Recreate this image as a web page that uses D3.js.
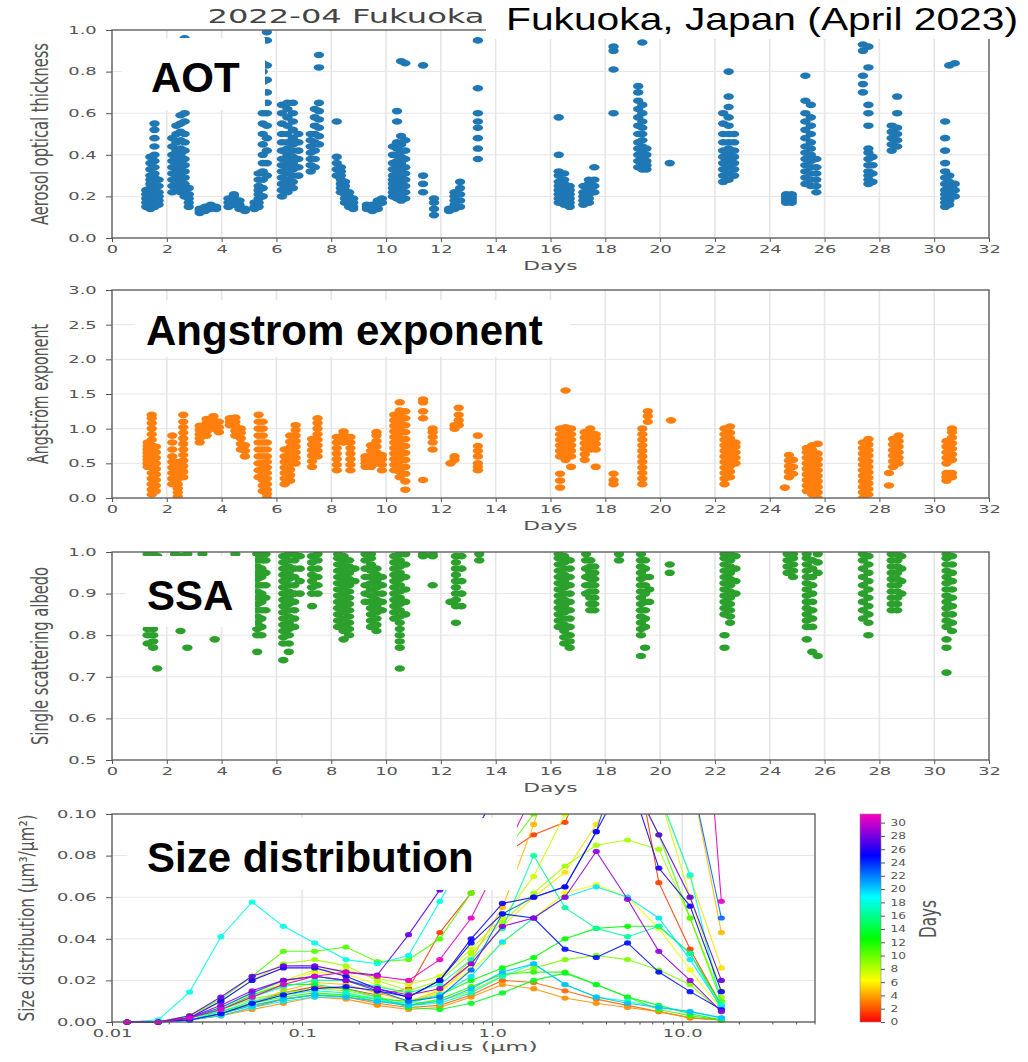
<!DOCTYPE html>
<html>
<head>
<meta charset="utf-8">
<script src="https://cdn.jsdelivr.net/npm/d3@7"></script>
<style>
  body { margin: 0; background: #fff; }
  svg { display: block; }
</style>
</head>
<body>
<svg id="chart" width="1028" height="1062"></svg>
<script>
// ---------------------------------------------------------------
// Sky radiometer retrievals, Fukuoka, April 2022.
// Each observation column is [day of month, [values observed]].
// ---------------------------------------------------------------
const dayTicks = [0, 2, 4, 6, 8, 10, 12, 14, 16, 18, 20, 22, 24, 26, 28, 30, 32];
const aotTicks = [0.0, 0.2, 0.4, 0.6, 0.8, 1.0];
const aeTicks = [0.0, 0.5, 1.0, 1.5, 2.0, 2.5, 3.0];
const ssaTicks = [0.5, 0.6, 0.7, 0.8, 0.9, 1.0];
const sizeTicks = [0.00, 0.02, 0.04, 0.06, 0.08, 0.10];
const radiusMajorTicks = [0.01, 0.1, 1, 10];
const radiusMajorLabels = ["0.01", "0.1", "1.0", "10.0"];
const colorbarTicks = [0, 2, 4, 6, 8, 10, 12, 14, 16, 18, 20, 22, 24, 26, 28, 30];

// Aerosol optical thickness
const aotObs = [
  [1.25, [0.15,0.17,0.19,0.21,0.23]],
  [1.4, [0.14,0.16,0.18,0.2,0.22,0.24,0.26,0.28,0.3,0.33,0.36,0.39]],
  [1.55, [0.15,0.17,0.19,0.21,0.23,0.25,0.27,0.29,0.31,0.34,0.37,0.4,0.44,0.48,0.52,0.55]],
  [1.7, [0.16,0.18,0.2,0.22,0.25,0.28]],
  [2.2, [0.22,0.25,0.28,0.31,0.34,0.37,0.4,0.44,0.48]],
  [2.35, [0.24,0.27,0.3,0.33,0.36,0.39,0.42,0.46,0.5,0.54]],
  [2.5, [0.22,0.25,0.28,0.31,0.34,0.37,0.4,0.43,0.47,0.51,0.55,0.59]],
  [2.65, [0.2,0.23,0.26,0.29,0.32,0.35,0.38,0.42,0.46,0.5,0.56,0.6,0.96]],
  [2.8, [0.15,0.17,0.19,0.21,0.24]],
  [3.2, [0.12,0.13,0.14]],
  [3.4, [0.13,0.14,0.15]],
  [3.6, [0.14,0.15,0.16]],
  [3.8, [0.14,0.15]],
  [4.25, [0.15,0.17,0.19]],
  [4.45, [0.16,0.18,0.2,0.21]],
  [4.65, [0.14,0.16,0.18]],
  [4.85, [0.13,0.14]],
  [5.2, [0.14,0.15,0.17]],
  [5.35, [0.15,0.17,0.19,0.21,0.23,0.25,0.28,0.31]],
  [5.5, [0.2,0.24,0.28,0.32,0.36,0.4,0.45,0.5,0.55,0.6,0.65,0.7,0.75,0.8,0.84]],
  [5.65, [0.3,0.36,0.42,0.48,0.54,0.6,0.65,0.7,0.76,0.83,0.95,0.99]],
  [6.2, [0.2,0.23,0.26,0.29,0.32,0.35,0.38,0.42,0.46,0.5,0.55,0.6,0.64]],
  [6.4, [0.22,0.25,0.28,0.31,0.34,0.37,0.4,0.43,0.46,0.5,0.54,0.58,0.62,0.65]],
  [6.6, [0.24,0.27,0.3,0.33,0.36,0.39,0.42,0.45,0.48,0.52,0.56,0.6,0.65]],
  [6.8, [0.3,0.34,0.38,0.42,0.46,0.5]],
  [7.25, [0.32,0.35,0.38,0.41,0.44,0.47,0.5]],
  [7.4, [0.34,0.38,0.42,0.46,0.5,0.54,0.58,0.62]],
  [7.55, [0.45,0.49,0.53,0.57,0.61,0.65,0.82,0.88]],
  [8.2, [0.3,0.33,0.36,0.39,0.56]],
  [8.35, [0.22,0.24,0.26,0.28,0.3,0.32,0.34]],
  [8.5, [0.17,0.19,0.21,0.23,0.25,0.27]],
  [8.65, [0.15,0.16,0.18,0.2,0.22]],
  [8.8, [0.14,0.15,0.17,0.19]],
  [9.3, [0.14,0.15,0.16]],
  [9.5, [0.13,0.14,0.15,0.16]],
  [9.7, [0.14,0.16,0.17,0.18]],
  [9.85, [0.17,0.19]],
  [10.25, [0.2,0.22,0.24,0.26,0.28,0.3,0.33,0.36,0.4,0.44]],
  [10.4, [0.19,0.21,0.23,0.25,0.27,0.29,0.31,0.34,0.37,0.4,0.43,0.46,0.56,0.61]],
  [10.55, [0.18,0.2,0.22,0.24,0.26,0.28,0.3,0.33,0.36,0.39,0.42,0.45,0.49,0.85]],
  [10.7, [0.19,0.22,0.25,0.28,0.31,0.34,0.38,0.42,0.47,0.84]],
  [11.35, [0.22,0.26,0.3,0.83]],
  [11.75, [0.11,0.14,0.17,0.19]],
  [12.3, [0.13,0.14]],
  [12.5, [0.14,0.16,0.18,0.2,0.22]],
  [12.7, [0.15,0.18,0.21,0.24,0.27]],
  [13.35, [0.38,0.43,0.48,0.53,0.56,0.6,0.72,0.95]],
  [16.3, [0.17,0.19,0.21,0.23,0.25,0.27,0.3,0.32,0.4,0.58]],
  [16.5, [0.16,0.18,0.2,0.22,0.24,0.26,0.28,0.31]],
  [16.7, [0.15,0.17,0.19,0.21,0.23,0.25]],
  [17.2, [0.16,0.18,0.2,0.22,0.25]],
  [17.4, [0.17,0.19,0.21,0.23,0.26,0.28]],
  [17.6, [0.22,0.25,0.28,0.34]],
  [18.3, [0.6,0.81,0.9,0.92]],
  [19.2, [0.34,0.37,0.4,0.43,0.46,0.5,0.54,0.58,0.62,0.66,0.7,0.73]],
  [19.35, [0.33,0.35,0.38,0.41,0.44,0.47,0.5,0.53,0.56,0.6,0.64,0.94]],
  [19.5, [0.33,0.35,0.37,0.4,0.43]],
  [20.35, [0.36]],
  [22.3, [0.27,0.3,0.33,0.36,0.39,0.42,0.46,0.5,0.55,0.6]],
  [22.5, [0.28,0.31,0.34,0.37,0.4,0.43,0.46,0.5,0.54,0.58,0.63,0.68,0.8]],
  [22.7, [0.3,0.33,0.36,0.39,0.42,0.46,0.5]],
  [24.6, [0.17,0.18,0.19,0.2,0.21]],
  [24.8, [0.17,0.18,0.19,0.2,0.21]],
  [25.3, [0.26,0.29,0.32,0.35,0.38,0.41,0.44,0.48,0.52,0.56,0.6,0.66,0.78]],
  [25.5, [0.25,0.28,0.31,0.34,0.37,0.4,0.43,0.46,0.5,0.54,0.58,0.64]],
  [25.7, [0.22,0.25,0.28,0.31,0.34,0.38]],
  [27.4, [0.7,0.74,0.78,0.9,0.93]],
  [27.6, [0.26,0.28,0.3,0.32,0.35,0.38,0.41,0.43,0.54,0.6,0.64,0.82,0.92]],
  [27.75, [0.27,0.31,0.35,0.39]],
  [28.45, [0.42,0.45,0.48,0.51,0.54]],
  [28.65, [0.44,0.47,0.5,0.53,0.6,0.68]],
  [30.4, [0.15,0.17,0.19,0.21,0.23,0.26,0.29,0.32,0.36,0.42,0.48,0.56]],
  [30.55, [0.16,0.18,0.2,0.22,0.24,0.27,0.3,0.83]],
  [30.75, [0.2,0.23,0.26,0.84]]
];

// Angstrom exponent
const aeObs = [
  [1.3, [0.45,0.5,0.55,0.6,0.65,0.7,0.75,0.8]],
  [1.45, [0.05,0.12,0.2,0.28,0.36,0.44,0.52,0.6,0.68,0.76,0.84,0.92,1.0,1.08,1.15,1.2]],
  [1.6, [0.1,0.18,0.26,0.34,0.42,0.5,0.58,0.66,0.74]],
  [2.2, [0.2,0.28,0.36,0.44,0.52,0.6,0.7,0.8,0.9]],
  [2.4, [0.02,0.08,0.14,0.2,0.28,0.36,0.44,0.52]],
  [2.6, [0.3,0.38,0.46,0.54,0.62,0.7,0.78,0.86,0.94,1.02,1.1,1.2]],
  [3.2, [0.8,0.86,0.92,0.98,1.04]],
  [3.45, [0.9,0.96,1.02,1.08,1.14]],
  [3.7, [1.0,1.06,1.12,1.18]],
  [3.9, [0.95,1.02,1.1]],
  [4.3, [1.05,1.1,1.15]],
  [4.5, [0.9,0.97,1.04,1.1,1.16]],
  [4.7, [0.7,0.78,0.86,0.94,1.0]],
  [4.85, [0.6,0.68,0.76]],
  [5.35, [0.3,0.4,0.5,0.6,0.7,0.8,0.9,1.0,1.1,1.2]],
  [5.5, [0.1,0.18,0.26,0.34,0.42,0.5,0.6,0.7,0.8,0.9,1.0,1.1]],
  [5.65, [0.0,0.06,0.12,0.2,0.28,0.36,0.44,0.52,0.6,0.7,0.8]],
  [6.3, [0.2,0.28,0.36,0.44,0.52,0.6,0.7]],
  [6.5, [0.25,0.33,0.41,0.49,0.57,0.65,0.73,0.81,0.9]],
  [6.7, [0.5,0.58,0.66,0.74,0.82,0.9,0.98,1.05]],
  [7.3, [0.45,0.53,0.61,0.69,0.77,0.85]],
  [7.5, [0.6,0.68,0.76,0.84,0.92,1.0,1.08,1.15]],
  [8.2, [0.4,0.48,0.56,0.64,0.72,0.8,0.88]],
  [8.45, [0.8,0.86,0.92,0.96]],
  [8.7, [0.4,0.48,0.56,0.64,0.72,0.8,0.88]],
  [9.25, [0.45,0.5,0.55,0.6]],
  [9.45, [0.45,0.52,0.6,0.68,0.76]],
  [9.65, [0.5,0.58,0.66,0.74,0.82,0.9,0.95]],
  [9.85, [0.4,0.48,0.56,0.62]],
  [10.3, [0.4,0.48,0.56,0.64,0.72,0.8,0.88,0.96,1.04,1.12,1.2]],
  [10.5, [0.3,0.38,0.46,0.54,0.62,0.7,0.78,0.86,0.94,1.02,1.1,1.18,1.26,1.38]],
  [10.7, [0.12,0.24,0.35,0.45,0.55,0.65,0.75,0.85,0.95,1.05,1.15,1.25]],
  [11.35, [0.26,1.15,1.25,1.38,1.42]],
  [11.7, [0.7,0.8,0.88,0.95,1.0]],
  [12.35, [0.5]],
  [12.5, [0.55,0.6,1.0,1.05]],
  [12.65, [1.05,1.12,1.2,1.3]],
  [13.35, [0.4,0.45,0.5,0.6,0.68,0.75,0.9]],
  [16.35, [0.15,0.25,0.35,0.6,0.68,0.76,0.84,0.92,1.0]],
  [16.55, [0.55,0.62,0.7,0.78,0.86,0.94,1.02,1.55]],
  [16.75, [0.45,0.6,0.68,0.76,0.84,0.92,1.0]],
  [17.25, [0.55,0.63,0.71,0.79,0.87,0.95]],
  [17.45, [0.7,0.78,0.86,0.94,1.0]],
  [17.65, [0.45,0.7,0.78,0.86,0.92]],
  [18.3, [0.2,0.26,0.35]],
  [19.35, [0.2,0.28,0.36,0.44,0.52,0.6,0.68,0.76,0.84,0.92,1.0]],
  [19.55, [1.1,1.18,1.25]],
  [20.4, [1.12]],
  [22.35, [0.2,0.28,0.36,0.44,0.52,0.6,0.68,0.76,0.84,0.92,1.0]],
  [22.55, [0.3,0.38,0.46,0.54,0.62,0.7,0.78,0.86,0.94,1.03]],
  [22.75, [0.5,0.58,0.66,0.74,0.8]],
  [24.55, [0.15]],
  [24.7, [0.3,0.38,0.46,0.54,0.62]],
  [24.85, [0.35,0.45,0.55]],
  [25.35, [0.1,0.18,0.26,0.34,0.42,0.5,0.58,0.66,0.72]],
  [25.55, [0.05,0.13,0.21,0.29,0.37,0.45,0.53,0.61,0.69,0.76]],
  [25.75, [0.0,0.08,0.16,0.24,0.32,0.4,0.48,0.56,0.64,0.78]],
  [27.4, [0.0,0.08,0.16,0.24,0.32,0.4,0.48,0.56,0.64,0.72,0.8]],
  [27.6, [0.05,0.13,0.21,0.29,0.37,0.45,0.53,0.61,0.69,0.77,0.85]],
  [28.35, [0.18,0.36]],
  [28.5, [0.45,0.53,0.61,0.69,0.77,0.85]],
  [28.7, [0.5,0.58,0.66,0.74,0.82,0.9]],
  [30.45, [0.25,0.3,0.36,0.5,0.58,0.66,0.74,0.82]],
  [30.65, [0.3,0.36,0.55,0.63,0.71,0.79,0.87,0.95,1.0]]
];

// Single scattering albedo
const ssaObs = [
  [1.3, [0.78,0.8,0.815,0.83,0.845,0.86,0.875,0.89,0.905,0.92,0.935,0.95,0.965,0.98,0.995]],
  [1.5, [0.77,0.785,0.8,0.815,0.83,0.845,0.86,0.875,0.89,0.905,0.92,0.935,0.95,0.965,0.98,0.995]],
  [1.65, [0.72,0.85,0.9,0.95,0.99]],
  [2.3, [0.88,0.91,0.94,0.97,0.995]],
  [2.5, [0.81,0.83,0.85,0.87,0.89,0.91,0.93,0.95,0.97,0.99]],
  [2.75, [0.77,0.9,0.95,0.995]],
  [3.3, [0.95,0.975,0.995]],
  [3.75, [0.79,0.95]],
  [4.5, [0.97,0.995]],
  [5.3, [0.76,0.8,0.815,0.83,0.845,0.86,0.875,0.89,0.905,0.92,0.935,0.95,0.965,0.98,0.995]],
  [5.45, [0.8,0.82,0.84,0.86,0.88,0.9,0.92,0.94,0.96,0.98,0.995]],
  [5.6, [0.86,0.89,0.92,0.95,0.98,0.995]],
  [6.25, [0.74,0.78,0.795,0.81,0.825,0.84,0.855,0.87,0.885,0.9,0.915,0.93,0.945,0.96,0.975,0.99]],
  [6.45, [0.76,0.78,0.8,0.815,0.83,0.845,0.86,0.875,0.89,0.905,0.92,0.935,0.95,0.965,0.98,0.995]],
  [6.65, [0.82,0.84,0.86,0.88,0.9,0.92,0.94,0.96,0.98,0.995]],
  [6.85, [0.9,0.93,0.96,0.99]],
  [7.3, [0.87,0.9,0.915,0.93,0.945,0.96,0.975,0.99]],
  [7.5, [0.9,0.92,0.94,0.96,0.98,0.995]],
  [8.25, [0.82,0.835,0.85,0.865,0.88,0.895,0.91,0.925,0.94,0.955,0.97,0.985,0.995]],
  [8.45, [0.79,0.81,0.825,0.84,0.855,0.87,0.885,0.9,0.915,0.93,0.945,0.96,0.975,0.99]],
  [8.65, [0.8,0.815,0.83,0.845,0.86,0.875,0.89,0.905,0.92,0.935,0.95,0.965,0.98]],
  [8.85, [0.93,0.96]],
  [9.25, [0.88,0.9,0.92,0.94,0.96,0.98,0.995]],
  [9.45, [0.82,0.835,0.85,0.865,0.88,0.895,0.91,0.925,0.94,0.955,0.97,0.985,0.995]],
  [9.65, [0.81,0.825,0.84,0.855,0.87,0.885,0.9,0.915,0.93,0.945,0.96]],
  [9.85, [0.86,0.88,0.9,0.92,0.94]],
  [10.3, [0.84,0.855,0.87,0.885,0.9,0.915,0.93,0.945,0.96,0.975,0.99]],
  [10.5, [0.72,0.77,0.785,0.8,0.815,0.83,0.845,0.86,0.875,0.89,0.905,0.92,0.935,0.95,0.965,0.98,0.995]],
  [10.7, [0.85,0.88,0.91,0.94,0.97,0.995]],
  [11.35, [0.99,0.995]],
  [11.7, [0.92,0.99,0.995]],
  [12.35, [0.88]],
  [12.55, [0.83,0.87,0.885,0.9,0.915,0.93,0.945,0.96,0.975,0.99]],
  [12.75, [0.87,0.9,0.93,0.96,0.99]],
  [13.4, [0.98,0.995]],
  [16.3, [0.82,0.835,0.85,0.865,0.88,0.895,0.91,0.925,0.94,0.955,0.97,0.985,0.995]],
  [16.5, [0.78,0.795,0.81,0.825,0.84,0.855,0.87,0.885,0.9,0.915,0.93,0.945,0.96,0.975,0.99]],
  [16.7, [0.77,0.785,0.8,0.82,0.84,0.86,0.88,0.9,0.92,0.94,0.96,0.98]],
  [17.3, [0.9,0.92,0.94,0.96,0.98,0.995]],
  [17.45, [0.86,0.875,0.89,0.905,0.92,0.935,0.95,0.965,0.98]],
  [17.6, [0.86,0.875,0.89,0.905,0.92,0.935,0.95,0.965]],
  [18.5, [0.98,0.995]],
  [19.3, [0.75,0.8,0.815,0.83,0.845,0.86,0.875,0.89,0.905,0.92,0.935,0.95,0.965,0.98,0.995]],
  [19.45, [0.77,0.82,0.84,0.86,0.88,0.9,0.92,0.94,0.96,0.98]],
  [19.6, [0.88,0.91,0.94]],
  [20.35, [0.95,0.97]],
  [22.35, [0.77,0.8,0.85,0.865,0.88,0.895,0.91,0.925,0.94,0.955,0.97,0.985,0.995]],
  [22.55, [0.83,0.845,0.86,0.875,0.89,0.905,0.92,0.935,0.95,0.965,0.98,0.995]],
  [22.75, [0.9,0.93,0.96,0.99]],
  [24.65, [0.95,0.965,0.98,0.995]],
  [24.85, [0.94,0.955,0.97,0.985,0.995]],
  [25.35, [0.79,0.82,0.835,0.85,0.865,0.88,0.895,0.91,0.925,0.94,0.955,0.97,0.985,0.995]],
  [25.55, [0.76,0.82,0.84,0.86,0.88,0.9,0.92,0.94,0.96,0.98]],
  [25.75, [0.75,0.95,0.975,0.995]],
  [27.4, [0.84,0.86,0.88,0.9,0.92,0.94,0.96,0.98,0.995]],
  [27.6, [0.8,0.83,0.85,0.87,0.89,0.91,0.93,0.95,0.97,0.99]],
  [28.45, [0.86,0.875,0.89,0.905,0.92,0.935,0.95,0.965,0.98,0.995]],
  [28.65, [0.86,0.875,0.89,0.905,0.92,0.935,0.95,0.965,0.98,0.995]],
  [28.8, [0.9,0.93,0.96,0.99]],
  [30.45, [0.71,0.77,0.79,0.82,0.835,0.85,0.865,0.88,0.895,0.91,0.925,0.94,0.955,0.97,0.985,0.995]],
  [30.65, [0.81,0.83,0.85,0.87,0.89,0.91,0.93,0.95,0.97,0.99]]
];

// Volume size distribution: radius bins (um) and one curve per day
const radiusBins = [0.0120, 0.0175, 0.0256, 0.0374, 0.0546, 0.0798, 0.1166, 0.1703, 0.2488, 0.3634,
                    0.5309, 0.7756, 1.133, 1.655, 2.418, 3.532, 5.160, 7.538, 11.01, 16.08];
const sizeDays = [1.5, 2.5, 3.5, 4.5, 5.5, 6.5, 7.5, 8.5, 9.5, 10.5, 11.5, 12.5, 13.3,
                  16.5, 17.5, 18.3, 19.4, 20.3, 22.5, 24.7, 25.5, 27.5, 28.6, 30.6];
const sizeValues = [
  [0,0,0.001,0.004,0.009,0.014,0.017,0.016,0.013,0.016,0.043,0.062,0.08,0.09,0.096,0.13,0.15,0.067,0.035,0.008],
  [0,0,0.001,0.003,0.007,0.011,0.013,0.012,0.009,0.007,0.008,0.013,0.02,0.019,0.015,0.011,0.008,0.005,0.002,0.001],
  [0,0,0.001,0.003,0.006,0.009,0.012,0.011,0.008,0.006,0.007,0.012,0.018,0.016,0.0115,0.009,0.007,0.005,0.002,0.001],
  [0,0,0.001,0.004,0.009,0.015,0.019,0.018,0.014,0.01,0.015,0.03,0.055,0.095,0.14,0.17,0.18,0.16,0.12,0.043],
  [0,0,0.002,0.006,0.012,0.018,0.022,0.02,0.015,0.01,0.014,0.028,0.046,0.06,0.072,0.095,0.12,0.11,0.07,0.026],
  [0,0,0.002,0.006,0.013,0.019,0.024,0.023,0.018,0.013,0.015,0.025,0.038,0.05,0.062,0.066,0.06,0.045,0.025,0.006],
  [0,0,0.002,0.007,0.014,0.02,0.025,0.025,0.021,0.018,0.022,0.035,0.05,0.07,0.1,0.13,0.14,0.11,0.06,0.015],
  [0,0,0.003,0.01,0.02,0.028,0.03,0.027,0.02,0.015,0.02,0.033,0.048,0.062,0.075,0.085,0.0875,0.083,0.05,0.012],
  [0,0,0.002,0.006,0.011,0.014,0.016,0.015,0.012,0.009,0.01,0.015,0.022,0.026,0.03,0.032,0.03,0.025,0.018,0.005],
  [0,0,0.003,0.011,0.022,0.034,0.034,0.036,0.029,0.03,0.04,0.062,0.08,0.1,0.12,0.13,0.12,0.09,0.05,0.01],
  [0,0,0.002,0.005,0.009,0.012,0.014,0.013,0.01,0.008,0.011,0.017,0.023,0.024,0.024,0.018,0.012,0.006,0.003,0.001],
  [0,0,0.001,0.004,0.008,0.011,0.013,0.013,0.011,0.01,0.013,0.02,0.026,0.031,0.04,0.045,0.046,0.046,0.033,0.008],
  [0,0,0.002,0.006,0.013,0.018,0.018,0.016,0.012,0.007,0.006,0.009,0.014,0.02,0.0235,0.018,0.012,0.008,0.004,0.001],
  [0,0,0.002,0.006,0.012,0.017,0.02,0.02,0.017,0.014,0.018,0.03,0.045,0.08,0.055,0.045,0.041,0.046,0.033,0.006],
  [0,0,0.001,0.005,0.01,0.013,0.015,0.014,0.011,0.008,0.009,0.014,0.022,0.028,0.018,0.012,0.01,0.007,0.005,0.002],
  [0,0.001,0.0144,0.041,0.0577,0.046,0.038,0.03,0.028,0.032,0.058,0.085,0.12,0.16,0.19,0.18,0.15,0.11,0.0707,0.008],
  [0,0,0.001,0.003,0.007,0.01,0.012,0.012,0.01,0.009,0.013,0.022,0.0385,0.05,0.06,0.065,0.06,0.05,0.03,0.007],
  [0,0,0.001,0.004,0.008,0.011,0.013,0.012,0.01,0.008,0.01,0.016,0.024,0.028,0.018,0.012,0.009,0.007,0.005,0.002],
  [0,0,0.002,0.007,0.014,0.02,0.022,0.02,0.015,0.01,0.012,0.025,0.052,0.06,0.065,0.0915,0.14,0.16,0.12,0.05],
  [0,0,0.001,0.004,0.009,0.013,0.016,0.017,0.015,0.012,0.02,0.038,0.052,0.05,0.035,0.031,0.038,0.024,0.0146,0.006],
  [0,0,0.002,0.01,0.02,0.026,0.026,0.022,0.016,0.012,0.02,0.04,0.057,0.06,0.065,0.0915,0.12,0.074,0.0557,0.0146],
  [0,0,0.003,0.012,0.022,0.027,0.027,0.024,0.0226,0.042,0.0635,0.088,0.115,0.15,0.17,0.15,0.12,0.09,0.06,0.02],
  [0,0,0.002,0.008,0.015,0.02,0.022,0.02,0.016,0.013,0.016,0.028,0.046,0.05,0.06,0.082,0.059,0.034,0.02,0.005],
  [0,0,0.002,0.006,0.012,0.018,0.022,0.024,0.022,0.02,0.03,0.05,0.08,0.11,0.15,0.2,0.26,0.3,0.25,0.058]
];

// ---------------------------------------------------------------
const SX = 1.7;            // horizontal stretch of the figure's text and markers
const FONT = "DejaVu Sans, sans-serif";
const INK = "#555";
const GRID = "#e6e6e6";
const X0 = 112, X1 = 989;

const svg = d3.select("#chart");
const defs = svg.append("defs");
const xDay = d3.scaleLinear().domain([0, 32]).range([X0, X1]);

function styleAxis(a, size, sx) {
  a.select(".domain").remove();
  a.selectAll(".tick line").attr("stroke", INK).attr("stroke-width", 1);
  a.selectAll(".tick text")
    .attr("fill", INK).attr("font-family", FONT).attr("font-size", size)
    .attr("transform", `scale(${sx},1)`);
}

function stretchedText(g, x, y, str, o) {
  const t = g.append("text")
    .attr("transform", `translate(${x},${y}) scale(${o.sx || SX},1)` + (o.rotate ? ` rotate(${o.rotate})` : ""))
    .attr("text-anchor", o.anchor || "middle")
    .attr("font-family", FONT)
    .attr("font-size", o.size)
    .attr("fill", o.fill || INK)
    .text(str);
  if (o.len) t.attr("textLength", o.len).attr("lengthAdjust", "spacingAndGlyphs");
  return t;
}

function timePanel(cfg) {
  const { id, top, bottom, domain, ticks, fmt, obs, color, ylabel, ylabelLen } = cfg;
  const y = d3.scaleLinear().domain(domain).range([bottom, top]);
  const g = svg.append("g");

  defs.append("clipPath").attr("id", id).append("rect")
    .attr("x", X0).attr("y", top).attr("width", X1 - X0).attr("height", bottom - top);

  // grid
  g.append("g").selectAll("line").data(dayTicks).join("line")
    .attr("x1", d => xDay(d)).attr("x2", d => xDay(d))
    .attr("y1", top).attr("y2", bottom)
    .attr("stroke", GRID).attr("stroke-width", 1.6);
  g.append("g").selectAll("line").data(ticks).join("line")
    .attr("x1", X0).attr("x2", X1)
    .attr("y1", d => y(d)).attr("y2", d => y(d))
    .attr("stroke", GRID).attr("stroke-width", 1);

  // observations
  const pts = obs.flatMap(([t, vals]) => vals.map(v => [t, v]));
  g.append("g").attr("clip-path", `url(#${id})`)
    .selectAll("ellipse").data(pts).join("ellipse")
    .attr("cx", d => xDay(d[0])).attr("cy", d => y(d[1]))
    .attr("rx", 5.2).attr("ry", 3.3)
    .attr("fill", color);

  // frame
  g.append("rect").attr("x", X0).attr("y", top)
    .attr("width", X1 - X0).attr("height", bottom - top)
    .attr("fill", "none").attr("stroke", "#5a5a5a").attr("stroke-width", 1.3);

  // axes
  const xa = g.append("g").attr("transform", `translate(0,${bottom})`)
    .call(d3.axisBottom(xDay).tickValues(dayTicks).tickFormat(d3.format("d")).tickSize(4).tickPadding(4));
  styleAxis(xa, 10.5, SX);
  const ya = g.append("g").attr("transform", `translate(${X0},0)`)
    .call(d3.axisLeft(y).tickValues(ticks).tickFormat(d3.format(fmt)).tickSize(6).tickPadding(3));
  styleAxis(ya, 10.5, SX);

  stretchedText(g, (X0 + X1) / 2, bottom + 32, "Days", { size: 12, len: 32 });
  stretchedText(g, 48, (top + bottom) / 2, ylabel, { size: 14, rotate: -90, len: ylabelLen });
  return y;
}

// ---- top title
stretchedText(svg, 346, 22.5, "2022-04  Fukuoka", { size: 19, len: 163, fill: "#444" });

// ---- three time series panels
timePanel({ id: "clip-aot", top: 30, bottom: 238, domain: [0, 1], ticks: aotTicks, fmt: ".1f",
  obs: aotObs, color: "#1f77b4", ylabel: "Aerosol optical thickness", ylabelLen: 182 });
timePanel({ id: "clip-ae", top: 290, bottom: 498, domain: [0, 3], ticks: aeTicks, fmt: ".1f",
  obs: aeObs, color: "#ff7f0e", ylabel: "Ångström exponent", ylabelLen: 140 });
timePanel({ id: "clip-ssa", top: 552, bottom: 760, domain: [0.5, 1], ticks: ssaTicks, fmt: ".1f",
  obs: ssaObs, color: "#2ca02c", ylabel: "Single scattering albedo", ylabelLen: 178 });

// ---- size distribution panel
const sTop = 814, sBottom = 1022, sX0 = 112, sX1 = 815;
const xR = d3.scaleLog().domain([0.01, 50]).range([sX0, sX1]);
const yS = d3.scaleLinear().domain([0, 0.1]).range([sBottom, sTop]);
const dayColor = d3.scaleLinear()
  .domain([0, 6.26, 12.52, 18.78, 25.04, 31.3])
  .range(["#ff0000", "#ffff00", "#00ff00", "#00ffff", "#0000ff", "#ff00bf"])
  .clamp(true);

const gs = svg.append("g");
defs.append("clipPath").attr("id", "clip-size").append("rect")
  .attr("x", sX0 - 6).attr("y", sTop).attr("width", sX1 - sX0 + 6).attr("height", sBottom - sTop + 6);

gs.append("g").selectAll("line").data(sizeTicks).join("line")
  .attr("x1", sX0).attr("x2", sX1).attr("y1", d => yS(d)).attr("y2", d => yS(d))
  .attr("stroke", GRID);
gs.append("g").selectAll("line").data(radiusMajorTicks).join("line")
  .attr("x1", d => xR(d)).attr("x2", d => xR(d)).attr("y1", sTop).attr("y2", sBottom)
  .attr("stroke", GRID).attr("stroke-width", 1.6);

const curves = sizeDays.map((day, k) => ({ day, vals: sizeValues[k] }));
const line = d3.line().x((v, i) => xR(radiusBins[i])).y(v => yS(v));
const gc = gs.append("g").attr("clip-path", "url(#clip-size)");
curves.forEach(c => {
  const col = dayColor(c.day);
  gc.append("path").attr("d", line(c.vals)).attr("fill", "none")
    .attr("stroke", col).attr("stroke-width", 1.1).attr("stroke-opacity", 0.9);
  gc.append("g").selectAll("ellipse").data(c.vals).join("ellipse")
    .attr("cx", (v, i) => xR(radiusBins[i])).attr("cy", v => yS(v))
    .attr("rx", 3.6).attr("ry", 2.6).attr("fill", col).attr("fill-opacity", 0.9);
});

gs.append("rect").attr("x", sX0).attr("y", sTop).attr("width", sX1 - sX0).attr("height", sBottom - sTop)
  .attr("fill", "none").attr("stroke", "#5a5a5a").attr("stroke-width", 1.3);

const radiusLabel = new Map(radiusMajorTicks.map((t, i) => [t, radiusMajorLabels[i]]));
const xra = gs.append("g").attr("transform", `translate(0,${sBottom})`)
  .call(d3.axisBottom(xR).tickValues(radiusMajorTicks).tickFormat(d => radiusLabel.get(d)).tickSize(4).tickPadding(4));
styleAxis(xra, 10.5, SX);
// minor ticks of the logarithmic axis
const minor = xR.ticks().filter(t => !radiusMajorTicks.includes(t));
gs.append("g").selectAll("line").data(minor).join("line")
  .attr("x1", d => xR(d)).attr("x2", d => xR(d))
  .attr("y1", sBottom).attr("y2", sBottom + 2.5)
  .attr("stroke", INK);
const ysa = gs.append("g").attr("transform", `translate(${sX0},0)`)
  .call(d3.axisLeft(yS).tickValues(sizeTicks).tickFormat(d3.format(".2f")).tickSize(6).tickPadding(3));
styleAxis(ysa, 10.5, SX);

stretchedText(gs, (sX0 + sX1) / 2 + 2, 1051, "Radius (μm)", { size: 13, len: 85 });
stretchedText(gs, 34, (sTop + sBottom) / 2, "Size distribution (μm³/μm²)", { size: 12, rotate: -90, len: 207 });

// ---- colour bar
const cbX = 860, cbW = 21;
const yC = d3.scaleLinear().domain([0, 31.3]).range([sBottom, sTop]);
const cb = svg.append("g");
const grad = defs.append("linearGradient").attr("id", "cbgrad")
  .attr("x1", 0).attr("y1", 1).attr("x2", 0).attr("y2", 0);
dayColor.domain().forEach(d => {
  grad.append("stop").attr("offset", d / 31.3).attr("stop-color", dayColor(d));
});
cb.append("rect").attr("x", cbX).attr("y", sTop).attr("width", cbW).attr("height", sBottom - sTop)
  .attr("fill", "url(#cbgrad)").attr("stroke", "#888").attr("stroke-width", 0.6);
const cba = cb.append("g").attr("transform", `translate(${cbX + cbW},0)`)
  .call(d3.axisRight(yC).tickValues(colorbarTicks).tickSize(4).tickPadding(3));
styleAxis(cba, 9, 1.35);
stretchedText(cb, 936, 919, "Days", { size: 14, rotate: -90, len: 38 });

// ---- panel captions on white boxes
const captions = [
  { text: "AOT", x: 122, y: 38, w: 143, h: 72, tx: 151, ty: 92 },
  { text: "Angstrom exponent", x: 135, y: 300, w: 435, h: 57, tx: 146, ty: 345 },
  { text: "SSA", x: 126, y: 556, w: 129, h: 71, tx: 147, ty: 610 },
  { text: "Size distribution", x: 127, y: 818, w: 390, h: 72, tx: 147, ty: 872 }
];
const cap = svg.append("g");
captions.forEach(c => {
  cap.append("rect").attr("x", c.x).attr("y", c.y).attr("width", c.w).attr("height", c.h).attr("fill", "#fff");
  cap.append("text").attr("x", c.tx).attr("y", c.ty)
    .attr("font-family", "Liberation Sans, Arial, sans-serif").attr("font-weight", "bold")
    .attr("font-size", 42).attr("fill", "#000").text(c.text);
});

// ---- heading banner
svg.append("rect").attr("x", 486).attr("y", 0).attr("width", 542).attr("height", 39).attr("fill", "#fff");
svg.append("text").attr("x", 506).attr("y", 30)
  .attr("font-family", "Liberation Sans, Arial, sans-serif").attr("font-size", 32).attr("fill", "#000")
  .attr("textLength", 512).attr("lengthAdjust", "spacingAndGlyphs")
  .text("Fukuoka, Japan (April 2023)");
</script>
</body>
</html>
